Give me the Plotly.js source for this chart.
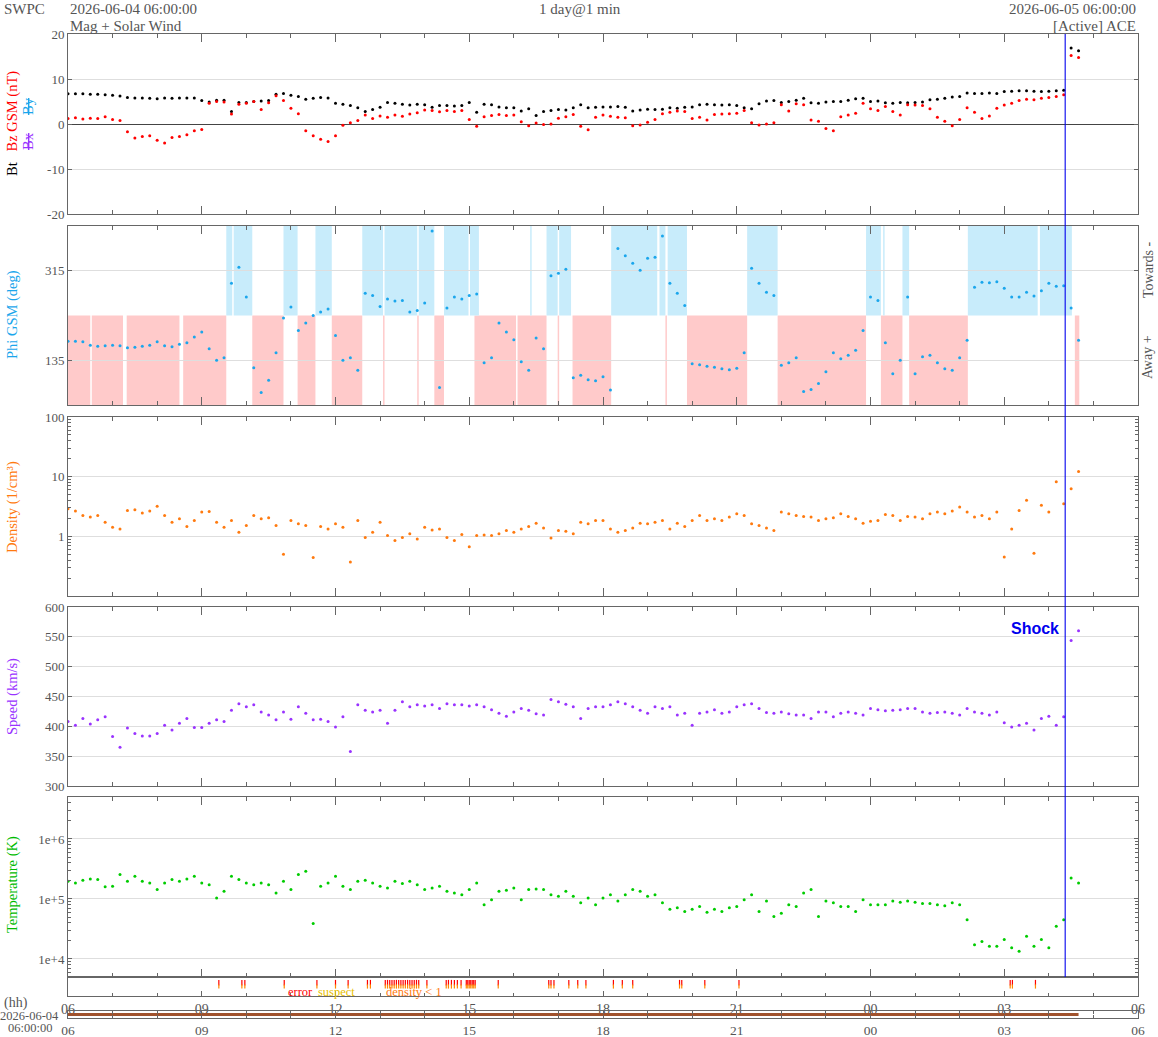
<!DOCTYPE html>
<html>
<head>
<meta charset="utf-8">
<script src="https://cdn.plot.ly/plotly-3.0.1.min.js"></script>
<style>html,body{margin:0;padding:0;background:#fff;}#chart{width:1158px;height:1037px;}</style>
</head>
<body>
<div id="chart"></div>
<script>
// ---------- DATA (10-minute samples, starting 2026-06-04 06:00) ----------
const startTime = "2026-06-04 06:00";
const endTime = "2026-06-05 06:00";
const shockTime = "2026-06-05 04:22";

const bt = [6.7,6.7,6.7,6.6,6.6,6.5,6.4,6.2,5.9,5.8,
5.8,5.7,5.6,5.8,5.7,5.8,5.8,5.8,5.2,4.9,
5.3,5.3,2.8,4.8,4.8,5.0,5.1,5.2,6.6,6.8,
6.4,6.1,5.5,5.7,5.9,5.8,4.6,4.4,4.1,3.6,
2.8,3.2,3.7,4.8,4.6,4.4,4.2,4.4,4.3,3.7,
4.1,4.1,4.0,4.1,4.8,2.6,4.4,4.3,3.8,3.6,
3.6,2.9,3.4,1.9,2.8,3.0,3.2,3.1,3.6,4.3,3.6,3.7,
3.8,3.8,3.9,3.7,2.9,3.1,3.3,3.2,3.3,3.6,
3.5,3.7,3.8,4.3,4.4,4.3,4.2,4.3,4.1,3.6,
3.4,4.5,5.1,5.2,4.8,5.0,5.3,5.7,4.7,4.6,
4.9,5.0,5.0,5.3,5.6,5.7,5.0,5.1,4.7,4.6,
4.8,4.7,4.8,4.9,5.4,5.5,5.7,6.0,6.1,6.9,
6.8,6.8,6.9,6.8,7.2,7.3,7.4,7.4,7.3,7.2,
7.3,7.4,7.5,16.9,16.3];

const bz = [1.2,1.4,1.1,1.3,1.2,1.6,1.0,0.8,-1.7,-3.1,
-2.8,-2.6,-3.6,-4.2,-3.0,-2.8,-2.4,-1.5,-1.2,4.6,
5.0,4.9,2.2,4.4,4.6,5.0,3.2,4.7,6.3,5.2,
3.5,2.3,-1.5,-2.6,-3.4,-3.9,-2.6,-0.3,0.3,0.8,
2.0,1.2,1.8,1.5,2.0,1.7,2.2,2.5,3.1,3.0,
2.7,3.0,2.8,3.0,1.0,-0.5,1.6,1.9,2.1,1.9,
2.0,0.5,-0.4,0.2,-0.1,0.0,1.3,1.6,2.1,-0.5,-1.3,1.5,
2.0,1.7,1.5,1.4,-0.4,-0.2,0.4,1.0,2.3,2.6,
2.9,2.8,1.2,1.5,0.9,2.1,2.2,2.3,2.4,3.0,
0.3,-0.2,0.0,0.3,4.3,2.9,4.5,4.3,0.9,0.6,
-1.0,-1.5,1.6,2.0,2.4,4.6,3.4,3.0,3.9,2.8,
2.0,4.3,4.2,4.1,3.4,1.5,0.6,-0.4,1.0,3.6,
2.6,1.2,1.8,3.5,4.2,4.6,5.2,5.5,5.4,5.7,
5.9,6.1,6.5,15.2,14.8];

const phi = [173,173,172,165,163,164,165,164,160,161,
163,165,172,164,162,167,170,182,192,158,
135,140,290,322,262,120,70,95,150,220,
242,195,210,225,232,238,185,135,140,115,
270,265,243,258,254,255,232,235,250,395,
80,240,262,258,265,268,130,140,210,192,
176,132,115,180,158,305,310,318,100,105,96,94,
102,75,360,345,330,316,340,342,385,290,
270,245,128,126,123,121,118,116,119,150,
320,290,272,265,125,130,140,72,76,88,
112,150,138,145,155,195,262,255,170,108,
135,262,108,142,145,130,118,115,140,175,
282,292,291,293,280,262,262,272,264,275,
290,284,285,240,175];

const density = [2.9,2.65,2.24,2.1,2.24,1.73,1.42,1.33,2.72,2.8,
2.45,2.65,3.2,2.24,1.73,1.97,1.46,1.84,2.55,2.6,
1.73,1.42,1.84,1.17,1.52,2.24,1.97,2.04,1.52,0.50,
1.84,1.62,1.52,0.44,1.46,1.33,1.62,1.42,0.37,1.84,
0.96,1.17,1.73,1.03,0.85,0.96,1.10,0.90,1.42,1.28,
1.33,0.96,0.85,1.07,0.67,1.03,1.05,1.03,1.10,1.25,
1.17,1.33,1.46,1.66,1.38,0.94,1.25,1.22,1.10,1.73,1.62,1.84,
1.84,1.33,1.17,1.25,1.38,1.66,1.62,1.73,1.84,1.33,
1.66,1.46,1.84,2.24,1.84,1.97,1.84,2.10,2.39,2.24,
1.62,1.52,1.38,1.25,2.55,2.39,2.24,2.15,2.10,1.84,
1.97,2.04,2.39,2.15,1.97,1.66,1.79,1.84,2.33,2.24,
1.84,2.15,2.10,1.97,2.39,2.55,2.39,2.65,3.10,2.55,
2.10,2.24,1.97,2.55,0.45,1.33,2.72,4.02,0.52,3.31,
2.55,8.2,3.53,6.3,12.2];

const speed = [408,402,413,404,411,416,383,365,397,388,
384,384,388,402,394,405,413,398,398,405,
411,408,427,438,433,436,424,419,411,424,
412,433,422,411,412,408,399,416,358,436,
427,424,427,405,427,441,433,436,434,436,
430,438,436,436,434,436,433,428,422,417,
424,430,427,421,419,445,441,437,433,413,430,433,
433,436,441,438,433,427,422,433,430,433,
419,422,402,422,424,428,422,424,433,436,
438,430,423,422,424,421,419,419,413,424,
424,416,422,424,422,419,430,428,426,427,
428,430,430,424,422,423,424,422,419,430,
424,422,419,424,406,399,402,405,394,413,
417,402,416,544,560];

const temperature = [1.97e5,1.85e5,2.05e5,2.15e5,2.1e5,1.6e5,1.63e5,2.55e5,1.97e5,2.39e5,
1.97e5,1.85e5,1.43e5,1.85e5,2.1e5,1.97e5,2.15e5,2.39e5,1.85e5,1.73e5,
1.04e5,1.34e5,2.39e5,2.1e5,1.85e5,1.73e5,1.85e5,1.73e5,1.26e5,1.97e5,
1.43e5,2.55e5,2.9e5,3.9e4,1.63e5,1.85e5,2.39e5,1.63e5,1.43e5,1.97e5,
2.05e5,1.85e5,1.63e5,1.52e5,1.97e5,1.8e5,1.97e5,1.73e5,1.43e5,1.52e5,
1.63e5,1.34e5,1.26e5,1.18e5,1.43e5,1.85e5,8.0e4,9.7e4,1.34e5,1.39e5,
1.52e5,9.7e4,1.43e5,1.47e5,1.43e5,1.18e5,1.11e5,1.34e5,1.11e5,8.6e4,1.04e5,8.0e4,
1.04e5,1.18e5,9.2e4,1.18e5,1.43e5,1.34e5,1.11e5,1.18e5,8.6e4,6.7e4,
7.1e4,6.2e4,6.7e4,7.5e4,6.0e4,6.7e4,6.2e4,7.1e4,7.5e4,9.7e4,
1.18e5,6.2e4,9.2e4,5.1e4,5.8e4,8.0e4,7.5e4,1.26e5,1.43e5,5.1e4,
9.2e4,8.6e4,7.5e4,7.5e4,6.2e4,9.7e4,8.0e4,8.0e4,8.0e4,9.2e4,
8.8e4,9.2e4,8.8e4,8.4e4,8.4e4,8.0e4,7.7e4,8.6e4,8.0e4,4.5e4,
1.73e4,1.96e4,1.62e4,1.62e4,2.1e4,1.53e4,1.34e4,2.4e4,1.62e4,2.1e4,
1.53e4,3.5e4,4.5e4,2.24e5,1.85e5];

// IMF sector intervals (Phi panel shading)
const awayStart = ["2026-06-04 06:00","2026-06-04 06:32","2026-06-04 07:19","2026-06-04 08:35","2026-06-04 10:08","2026-06-04 11:09","2026-06-04 11:55","2026-06-04 13:04","2026-06-04 13:50","2026-06-04 14:13","2026-06-04 15:07","2026-06-04 16:05","2026-06-04 16:59","2026-06-04 17:19","2026-06-04 19:24","2026-06-04 19:53","2026-06-04 21:55","2026-06-05 00:14","2026-06-05 00:52","2026-06-05 04:35"];
const awayEnd   = ["2026-06-04 06:30","2026-06-04 07:14","2026-06-04 08:30","2026-06-04 09:33","2026-06-04 10:50","2026-06-04 11:33","2026-06-04 12:36","2026-06-04 13:06","2026-06-04 13:52","2026-06-04 14:26","2026-06-04 16:03","2026-06-04 16:44","2026-06-04 17:01","2026-06-04 18:11","2026-06-04 19:26","2026-06-04 21:14","2026-06-04 23:54","2026-06-05 00:43","2026-06-05 02:11","2026-06-05 04:41"];
const towardStart = ["2026-06-04 09:33","2026-06-04 09:43","2026-06-04 10:50","2026-06-04 11:33","2026-06-04 12:36","2026-06-04 13:06","2026-06-04 13:52","2026-06-04 14:26","2026-06-04 15:01","2026-06-04 16:22","2026-06-04 16:44","2026-06-04 17:01","2026-06-04 18:11","2026-06-04 19:16","2026-06-04 19:27","2026-06-04 21:14","2026-06-04 23:54","2026-06-05 00:17","2026-06-05 00:43","2026-06-05 02:11","2026-06-05 03:48"];
const towardEnd   = ["2026-06-04 09:41","2026-06-04 10:08","2026-06-04 11:09","2026-06-04 11:55","2026-06-04 13:04","2026-06-04 13:50","2026-06-04 14:13","2026-06-04 14:59","2026-06-04 15:13","2026-06-04 16:24","2026-06-04 16:59","2026-06-04 17:17","2026-06-04 19:13","2026-06-04 19:24","2026-06-04 19:53","2026-06-04 21:55","2026-06-05 00:14","2026-06-05 00:19","2026-06-05 00:52","2026-06-05 03:45","2026-06-05 04:31"];

// data-quality flags (error strip)
const flagTimes = ["2026-06-04 09:23","2026-06-04 09:54","2026-06-04 09:58","2026-06-04 10:51","2026-06-04 11:35","2026-06-04 12:00","2026-06-04 12:17","2026-06-04 12:43","2026-06-04 12:47",
"2026-06-04 13:07","2026-06-04 13:10","2026-06-04 13:13","2026-06-04 13:16","2026-06-04 13:19","2026-06-04 13:22","2026-06-04 13:25","2026-06-04 13:28","2026-06-04 13:31","2026-06-04 13:34","2026-06-04 13:37","2026-06-04 13:40","2026-06-04 13:43","2026-06-04 13:46","2026-06-04 13:49","2026-06-04 13:52",
"2026-06-04 14:03","2026-06-04 14:29","2026-06-04 14:32","2026-06-04 14:36","2026-06-04 14:40","2026-06-04 14:44","2026-06-04 14:49",
"2026-06-04 14:56","2026-06-04 14:58","2026-06-04 15:00","2026-06-04 15:02","2026-06-04 15:04","2026-06-04 15:06","2026-06-04 15:08",
"2026-06-04 15:39","2026-06-04 16:47","2026-06-04 16:50","2026-06-04 16:54","2026-06-04 17:14","2026-06-04 17:26","2026-06-04 17:37",
"2026-06-04 18:14","2026-06-04 18:26","2026-06-04 18:40","2026-06-04 19:43","2026-06-04 19:46","2026-06-04 20:17","2026-06-04 21:03",
"2026-06-05 03:08","2026-06-05 03:11","2026-06-05 03:42"];

// ---------- helpers ----------
const W = 1158, H = 1037;
const px = x => x / W;
const py = y => 1 - y / H;
const t0 = Date.UTC(2026, 5, 4, 6, 0);
const times = bt.map((_, i) => new Date(t0 + i * 600000).toISOString().slice(0, 16).replace('T', ' '));

const SERIF = 'Liberation Serif, Times New Roman, serif';
const GRAY = '#555';
const LINE = '#666';
const xDom = [px(68), px(1138)];

function xAxis(anchor, extra) {
  return Object.assign({
    type: 'date', range: [startTime, endTime], domain: xDom, anchor: anchor,
    showgrid: false, zeroline: false, showline: true, linecolor: LINE, linewidth: 1,
    mirror: 'ticks', ticks: 'inside', ticklen: 8, tickcolor: LINE,
    tick0: startTime, dtick: 3 * 3600000,
    minor: { dtick: 3600000, ticks: 'inside', ticklen: 4, tickcolor: LINE },
    showticklabels: false, tickformat: '%H',
    tickfont: { family: SERIF, size: 14, color: GRAY }, fixedrange: true
  }, extra || {});
}
function yAxis(anchor, top, bottom, extra) {
  return Object.assign({
    domain: [py(bottom), py(top)], anchor: anchor,
    showline: true, linecolor: LINE, linewidth: 1, mirror: 'ticks',
    ticks: 'inside', ticklen: 4, tickcolor: LINE,
    gridcolor: '#dedede', gridwidth: 1, zeroline: false,
    tickfont: { family: SERIF, size: 13, color: GRAY }, fixedrange: true
  }, extra || {});
}

const mk = (c, s) => ({ size: s || 3, color: c, line: { width: 0 } });
const traces = [
  { x: times, y: bt, xaxis: 'x', yaxis: 'y', mode: 'markers', marker: mk('#000000'), name: 'Bt' },
  { x: times, y: bz, xaxis: 'x', yaxis: 'y', mode: 'markers', marker: mk('#ff0000'), name: 'Bz' },
  { x: times, y: phi, xaxis: 'x2', yaxis: 'y2', mode: 'markers', marker: mk('#1aa6ec'), name: 'Phi' },
  { x: times, y: density, xaxis: 'x3', yaxis: 'y3', mode: 'markers', marker: mk('#ff7a0f'), name: 'Density' },
  { x: times, y: speed, xaxis: 'x4', yaxis: 'y4', mode: 'markers', marker: mk('#9933ff'), name: 'Speed' },
  { x: times, y: temperature, xaxis: 'x5', yaxis: 'y5', mode: 'markers', marker: mk('#00cc00'), name: 'Temperature' },
  { x: flagTimes, y: flagTimes.map(() => 0.7), xaxis: 'x6', yaxis: 'y6', mode: 'markers',
    marker: { symbol: 'line-ns', size: 4, line: { width: 1.2, color: '#ff0000' } }, name: 'error' },
  { x: flagTimes, y: flagTimes.map(() => 0.5), xaxis: 'x6', yaxis: 'y6', mode: 'markers',
    marker: { symbol: 'line-ns', size: 3, line: { width: 1.2, color: '#ff8800' } }, name: 'density' },
  { x: [times[0], times[times.length - 1]], y: [0.5, 0.5], xaxis: 'x7', yaxis: 'y7', mode: 'lines',
    line: { color: '#a0522d', width: 3 }, name: 'coverage' }
];

const shapes = [];
awayStart.forEach((s, k) => shapes.push({ type: 'rect', xref: 'x2', yref: 'y2', x0: s, x1: awayEnd[k], y0: 45, y1: 225,
  fillcolor: '#ffcaca', line: { width: 0 }, layer: 'below' }));
towardStart.forEach((s, k) => shapes.push({ type: 'rect', xref: 'x2', yref: 'y2', x0: s, x1: towardEnd[k], y0: 225, y1: 405,
  fillcolor: '#c8ecfb', line: { width: 0 }, layer: 'below' }));
shapes.push({ type: 'line', xref: 'x', yref: 'paper', x0: shockTime, x1: shockTime, y0: py(977), y1: py(34),
  line: { color: '#0000ee', width: 1.1 } });

function ann(text, x, y, opts) {
  return Object.assign({ text: text, x: px(x), y: py(y), xref: 'paper', yref: 'paper', showarrow: false,
    xanchor: 'left', yanchor: 'middle', font: { family: SERIF, size: 15, color: GRAY } }, opts || {});
}
const rot = (text, x, y, color, size) => ann(text, x, y, { textangle: -90, xanchor: 'center', yanchor: 'middle',
  font: { family: SERIF, size: size || 14.5, color: color } });

const annotations = [
  ann('SWPC', 2, 8.5),
  ann('2026-06-04 06:00:00', 68, 8.5),
  ann('Mag + Solar Wind', 68, 25.5),
  ann('1 day@1 min', 580, 8.5, { xanchor: 'center' }),
  ann('2026-06-05 06:00:00', 1138, 8.5, { xanchor: 'right' }),
  ann('[Active] ACE', 1138, 25.5, { xanchor: 'right' }),
  rot('Bt\u00a0\u00a0\u00a0<span style="color:#ff0000">Bz GSM (nT)</span>', 12, 124, '#000000'),
  rot('<span style="color:#9933ff;text-decoration:line-through">Bx</span>\u00a0\u00a0\u00a0\u00a0\u00a0<span style="color:#1aa6ec;text-decoration:line-through">By</span>', 28, 124, '#9933ff'),
  rot('Phi GSM (deg)', 12, 315, '#1aa6ec'),
  rot('Density (1/cm³)', 12, 507, '#ff7a0f'),
  rot('Speed (km/s)', 12, 697, '#9933ff'),
  rot('Temperature (K)', 12, 885, '#00bb00'),
  rot('Towards -', 1148, 270, GRAY, 14),
  rot('Away +', 1148, 357, GRAY, 14),
  { text: '<b>Shock</b>', x: shockTime, xref: 'x4', y: py(628), yref: 'paper', showarrow: false,
    xanchor: 'right', yanchor: 'middle', xshift: -4, font: { family: 'Liberation Sans, Arial, sans-serif', size: 16, color: '#0000ee' } },
  ann('error', 300, 992, { xanchor: 'center', font: { family: SERIF, size: 12.5, color: '#ff0000' } }),
  ann('suspect', 336, 992, { xanchor: 'center', font: { family: SERIF, size: 12.5, color: '#e8c000' } }),
  ann('density &lt; 1', 414, 992, { xanchor: 'center', font: { family: SERIF, size: 12.5, color: '#ff7a0f' } }),
  ann('(hh)', 2, 1003, { font: { family: SERIF, size: 14, color: GRAY } }),
  ann('2026-06-04', 30, 1016, { xanchor: 'center', font: { family: SERIF, size: 12.5, color: GRAY } }),
  ann('06:00:00', 30, 1027.5, { xanchor: 'center', font: { family: SERIF, size: 12.5, color: GRAY } })
];

const layout = {
  width: W, height: H, margin: { l: 0, r: 0, t: 0, b: 0 },
  paper_bgcolor: '#ffffff', plot_bgcolor: '#ffffff', showlegend: false,
  xaxis: xAxis('y'),
  xaxis2: xAxis('y2'),
  xaxis3: xAxis('y3'),
  xaxis4: xAxis('y4'),
  xaxis5: xAxis('y5'),
  xaxis6: xAxis('y6', { mirror: true, showticklabels: true, ticklen: 5,
    minor: { dtick: 3600000, ticks: 'inside', ticklen: 3, tickcolor: LINE } }),
  xaxis7: xAxis('y7', { mirror: 'ticks', ticks: 'inside', ticklen: 3, showticklabels: true,
    tickfont: { family: SERIF, size: 13.5, color: GRAY },
    minor: { dtick: 3600000, ticks: 'inside', ticklen: 3, tickcolor: LINE } }),
  yaxis: yAxis('x', 34, 214, { range: [-20, 20], tickmode: 'array', tickvals: [-20, -10, 0, 10, 20],
    ticktext: ['-20', '-10', '0', '10', '20'], zeroline: true, zerolinecolor: '#444', zerolinewidth: 1 }),
  yaxis2: yAxis('x2', 226, 405, { range: [45, 405], tickmode: 'array', tickvals: [135, 315], ticktext: ['135', '315'] }),
  yaxis3: yAxis('x3', 417, 596, { type: 'log', range: [-1, 2], tickmode: 'array', tickvals: [1, 10, 100], ticktext: ['1', '10', '100'],
    minor: { dtick: 'D1', ticks: 'inside', ticklen: 3, tickcolor: LINE, showgrid: false } }),
  yaxis4: yAxis('x4', 607, 786, { range: [300, 600], tickmode: 'array', tickvals: [300, 350, 400, 450, 500, 550, 600] }),
  yaxis5: yAxis('x5', 797, 977, { type: 'log', range: [Math.log10(5000), Math.log10(5e6)], tickmode: 'array',
    tickvals: [1e4, 1e5, 1e6], ticktext: ['1e+4', '1e+5', '1e+6'],
    minor: { dtick: 'D1', ticks: 'inside', ticklen: 3, tickcolor: LINE, showgrid: false } }),
  yaxis6: yAxis('x6', 977, 996, { range: [0, 1], ticks: '', showticklabels: false, showgrid: false, mirror: true }),
  yaxis7: yAxis('x7', 1011, 1018, { range: [0, 1], ticks: '', showticklabels: false, showgrid: false, mirror: true }),
  shapes: shapes,
  annotations: annotations
};

Plotly.newPlot('chart', traces, layout, { staticPlot: true, displayModeBar: false });
</script>
</body>
</html>
